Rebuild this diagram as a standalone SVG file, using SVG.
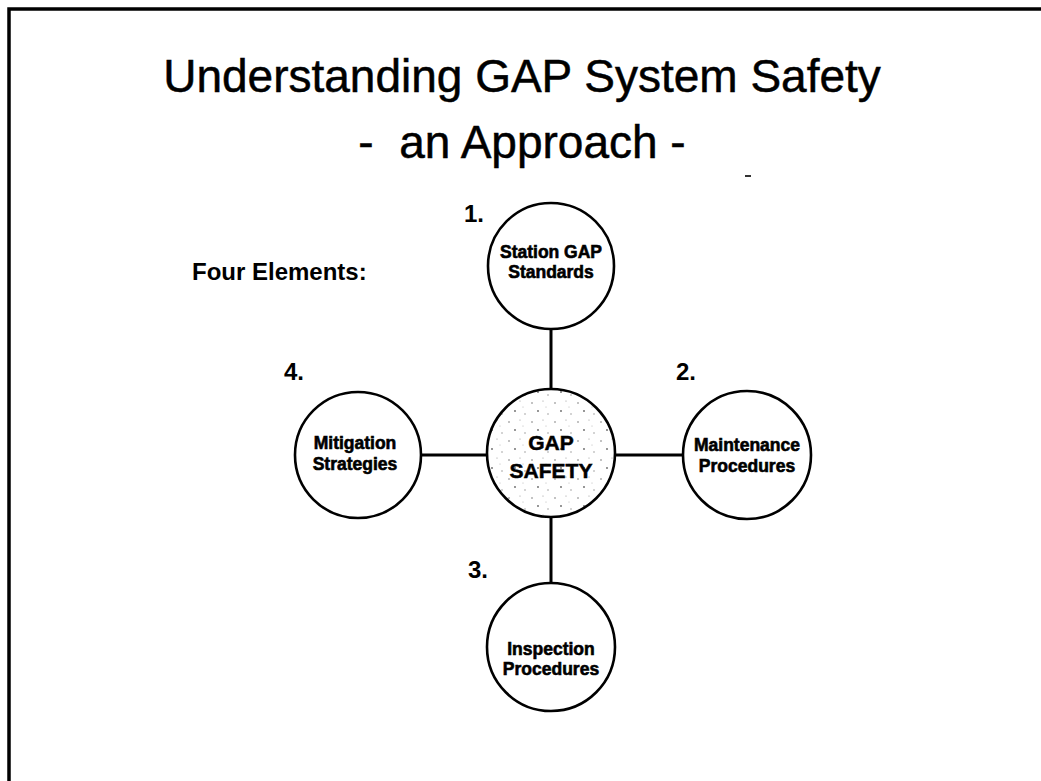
<svg xmlns="http://www.w3.org/2000/svg" width="1041" height="781" viewBox="0 0 1041 781">
<style>
.t{font-family:"Liberation Sans",Arial,sans-serif;fill:#000}
.title{font-size:46px;text-anchor:middle;stroke:#000;stroke-width:0.5}
.num{font-size:24px;font-weight:bold}
.lbl{font-size:17.5px;font-weight:bold;text-anchor:middle;stroke:#000;stroke-width:0.6}
.big{font-size:21px;font-weight:bold;text-anchor:middle;stroke:#000;stroke-width:0.5}
.c{fill:#fff;stroke:#000;stroke-width:2.6}
.ln{stroke:#000;stroke-width:3;fill:none}
</style>
<defs>
<pattern id="speck" width="23" height="19" patternUnits="userSpaceOnUse">
<rect width="23" height="19" fill="#fff"/>
<circle cx="3" cy="4" r="0.8" fill="#777"/>
<circle cx="14" cy="2" r="0.6" fill="#999"/>
<circle cx="9" cy="12" r="0.9" fill="#666"/>
<circle cx="19" cy="15" r="0.7" fill="#888"/>
<circle cx="17" cy="8" r="0.5" fill="#aaa"/>
</pattern>
</defs>
<rect width="1041" height="781" fill="#fff"/>
<path d="M9 781 V9 H1041" fill="none" stroke="#000" stroke-width="3.5"/>
<text class="t title" x="522" y="92">Understanding GAP System Safety</text>
<text class="t title" x="522" y="158" xml:space="preserve">-  an Approach -</text>
<rect x="745" y="175" width="6" height="2" fill="#333"/>
<text class="t num" x="192" y="280">Four Elements:</text>
<g id="connectors">
<line class="ln" x1="551" y1="328" x2="551" y2="389"/>
<line class="ln" x1="551" y1="516" x2="551" y2="583"/>
<line class="ln" x1="421" y1="455" x2="487" y2="455"/>
<line class="ln" x1="615" y1="455" x2="682" y2="455"/>
</g>
<g id="center">
<circle class="c" cx="551" cy="453" r="64" style="fill:url(#speck)"/>
<text class="t big" x="551" y="450">GAP</text>
<text class="t big" x="551" y="478">SAFETY</text>
</g>
<g id="n1">
<circle class="c" cx="551" cy="266" r="63"/>
<text class="t num" x="464" y="222">1.</text>
<text class="t lbl" x="551" y="258">Station GAP</text>
<text class="t lbl" x="551" y="278">Standards</text>
</g>
<g id="n2">
<circle class="c" cx="747" cy="455" r="64"/>
<text class="t num" x="676" y="380">2.</text>
<text class="t lbl" x="747" y="451">Maintenance</text>
<text class="t lbl" x="747" y="472">Procedures</text>
</g>
<g id="n3">
<circle class="c" cx="551" cy="647" r="64"/>
<text class="t num" x="468" y="578">3.</text>
<text class="t lbl" x="551" y="655">Inspection</text>
<text class="t lbl" x="551" y="675">Procedures</text>
</g>
<g id="n4">
<circle class="c" cx="358" cy="455" r="63"/>
<text class="t num" x="284" y="380">4.</text>
<text class="t lbl" x="355" y="449">Mitigation</text>
<text class="t lbl" x="355" y="470">Strategies</text>
</g>
</svg>
